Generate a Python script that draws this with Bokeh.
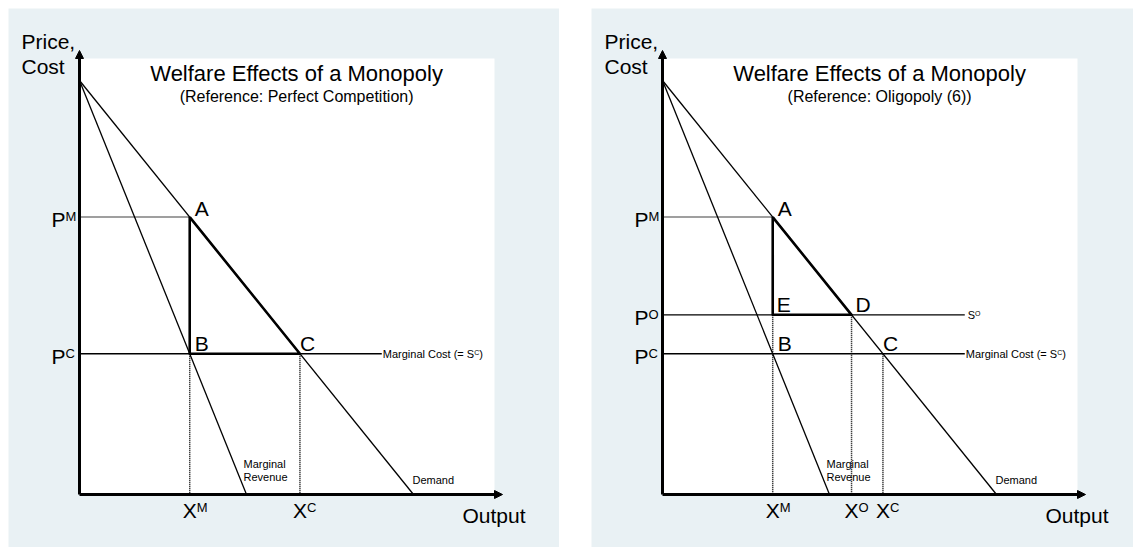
from bokeh.plotting import figure
from bokeh.models import Range1d, Arrow, NormalHead
from bokeh.layouts import row
from bokeh.core.properties import value
from bokeh.embed import file_html
from bokeh.resources import INLINE

# ---------------- data ----------------
price_intercept = 100.0      # demand and MR start on the price axis
demand_x_intercept = 100.0   # demand meets the output axis
mr_x_intercept = 50.0        # marginal revenue meets the output axis
p_m = 67.0                   # monopoly price
p_c = 34.0                   # competitive price = marginal cost
p_o = 43.4                   # oligopoly (6 firms) price
x_m = 33.0                   # monopoly output
x_c = 66.0                   # competitive output
x_o = 56.6                   # oligopoly output
cost_line_end = 90.5         # where the cost / supply lines stop

titles = ["Welfare Effects of a Monopoly", "Welfare Effects of a Monopoly"]
subtitles = ["(Reference: Perfect Competition)", "(Reference: Oligopoly (6))"]

# ---------------- layout constants ----------------
BG = "#e9f1f4"
FONT = value("Liberation Sans")
PX_X = 3.34          # pixels per output unit
PX_Y = 4.14          # pixels per price unit
ORIGIN_LEFT = 71     # px from figure left edge to the price axis
ORIGIN_BOTTOM = 53   # px from figure bottom edge to the output axis
FIG_H = 539
WHITE_RIGHT = 124.25
WHITE_TOP = 105.3
X_AXIS_END = 126.65
Y_AXIS_TOP = 107.25
TITLE_X = 65.0
BASE_FIX = 0.35      # em correction so offsets refer to the alphabetic baseline

BIG, SUP, SMALL, SMALL_SUP = 21, 13, 11, 7

ARIAL = {' ': 278, '(': 333, ')': 333, '=': 584, 'C': 722, 'M': 833, 'O': 778,
         'P': 667, 'S': 667, 'X': 667, 'a': 556, 'g': 556, 'i': 222, 'l': 222,
         'n': 556, 'o': 556, 'r': 333, 's': 500, 't': 278}


def tw(s, size):
    return sum(ARIAL.get(ch, 556) for ch in s) * size / 1000.0


def txt(p, x, y, s, size, dx=0.0, dy=0.0, align="left"):
    p.text(x=[x], y=[y], text=[s], x_offset=dx, y_offset=dy - BASE_FIX * size,
           text_font=FONT, text_font_size=f"{size}px", text_align=align,
           text_baseline="alphabetic", text_color="black")


def sup_drop(big, small):
    return 0.716 * (big - small)


def make_panel(width, title, subtitle, oligopoly):
    p = figure(width=width, height=FIG_H,
               x_range=Range1d(-ORIGIN_LEFT / PX_X, (width - ORIGIN_LEFT) / PX_X),
               y_range=Range1d(-ORIGIN_BOTTOM / PX_Y, (FIG_H - ORIGIN_BOTTOM) / PX_Y),
               x_axis_type=None, y_axis_type=None, output_backend="svg",
               toolbar_location=None, min_border=0,
               background_fill_color=BG, border_fill_color=BG,
               outline_line_color=None)

    # white drawing area
    p.quad(left=[0], right=[WHITE_RIGHT], bottom=[0], top=[WHITE_TOP],
           fill_color="white", line_color=None)

    # demand and marginal revenue
    p.segment(x0=[0, 0], y0=[price_intercept, price_intercept],
              x1=[demand_x_intercept, mr_x_intercept], y1=[0, 0],
              line_color="black", line_width=1.3)

    # cost / supply lines
    hy = [p_c] + ([p_o] if oligopoly else [])
    p.segment(x0=[0] * len(hy), y0=hy, x1=[cost_line_end] * len(hy), y1=hy,
              line_color="black", line_width=1.3)

    # dotted guide lines
    dx0 = [0]
    dy0 = [p_m]
    dx1 = [x_m]
    dy1 = [p_m]
    if oligopoly:
        verts = [(x_m, p_o), (x_o, p_o), (x_c, p_c)]
    else:
        verts = [(x_m, p_c), (x_c, p_c)]
    for vx, vy in verts:
        dx0.append(vx); dy0.append(vy); dx1.append(vx); dy1.append(0)
    p.segment(x0=dx0, y0=dy0, x1=dx1, y1=dy1, line_color="black",
              line_width=1.5, line_dash="1 1")

    # welfare-loss triangle
    if oligopoly:
        tx = [x_m, x_m, x_o, x_m]
        ty = [p_m, p_o, p_o, p_m]
    else:
        tx = [x_m, x_m, x_c, x_m]
        ty = [p_m, p_c, p_c, p_m]
    p.line(x=tx, y=ty, line_color="black", line_width=2.6, line_join="round")

    # axes with arrow heads
    for xe, ye in [(X_AXIS_END, 0), (0, Y_AXIS_TOP)]:
        p.add_layout(Arrow(end=NormalHead(size=8, fill_color="black",
                                          line_color="black", line_width=1),
                           x_start=0, y_start=0, x_end=xe, y_end=ye,
                           line_color="black", line_width=3))

    # titles
    txt(p, TITLE_X, WHITE_TOP, title, 22, dy=23, align="center")
    txt(p, TITLE_X, WHITE_TOP, subtitle, 16, dy=43.7, align="center")

    # axis titles
    txt(p, 0, Y_AXIS_TOP, "Price,", BIG, dx=-58, dy=-2)
    txt(p, 0, Y_AXIS_TOP, "Cost", BIG, dx=-58, dy=23)
    txt(p, X_AXIS_END, 0, "Output", BIG, dx=-40, dy=28)

    # price labels on the price axis
    plabels = [(p_m, "M"), (p_c, "C")] + ([(p_o, "O")] if oligopoly else [])
    for yv, s in plabels:
        txt(p, 0, yv, "P", BIG, dx=-28, dy=10)
        txt(p, 0, yv, s, SUP, dx=-28 + tw("P", BIG), dy=10 - sup_drop(BIG, SUP))

    # output labels on the output axis
    xlabels = [(x_m, "M"), (x_c, "C")] + ([(x_o, "O")] if oligopoly else [])
    for xv, s in xlabels:
        half = tw("X", BIG) / 2
        txt(p, xv, 0, "X", BIG, dx=-half, dy=23)
        txt(p, xv, 0, s, SUP, dx=half, dy=23 - sup_drop(BIG, SUP))

    # point labels
    pts = [("A", x_m, p_m, 5, -1), ("B", x_m, p_c, 5, -3), ("C", x_c, p_c, 0, -3)]
    if oligopoly:
        pts += [("D", x_o, p_o, 4, -3), ("E", x_m, p_o, 4, -3)]
    for s, xv, yv, ox, oy in pts:
        txt(p, xv, yv, s, BIG, dx=ox, dy=oy)

    # curve labels
    first = "Marginal Cost (= S"
    txt(p, cost_line_end, p_c, first, SMALL, dx=1, dy=4)
    txt(p, cost_line_end, p_c, "C", SMALL_SUP, dx=1 + tw(first, SMALL),
        dy=4 - sup_drop(SMALL, SMALL_SUP))
    txt(p, cost_line_end, p_c, " )", SMALL,
        dx=1 + tw(first, SMALL) + tw("C", SMALL_SUP), dy=4)
    if oligopoly:
        txt(p, cost_line_end, p_o, "S", SMALL, dx=3, dy=4)
        txt(p, cost_line_end, p_o, "O", SMALL_SUP, dx=3 + tw("S", SMALL),
            dy=4 - sup_drop(SMALL, SMALL_SUP))
    txt(p, mr_x_intercept, 0, "Marginal", SMALL, dx=-3, dy=-27)
    txt(p, mr_x_intercept, 0, "Revenue", SMALL, dx=-3, dy=-14)
    txt(p, demand_x_intercept, 0, "Demand", SMALL, dx=-1, dy=-11)
    return p


p1 = make_panel(551, titles[0], subtitles[0], False)
p2 = make_panel(542, titles[1], subtitles[1], True)
layout = row(p1, p2, spacing=32, margin=(8, 0, 0, 8))

open("out.html", "w").write(file_html(layout, INLINE))
